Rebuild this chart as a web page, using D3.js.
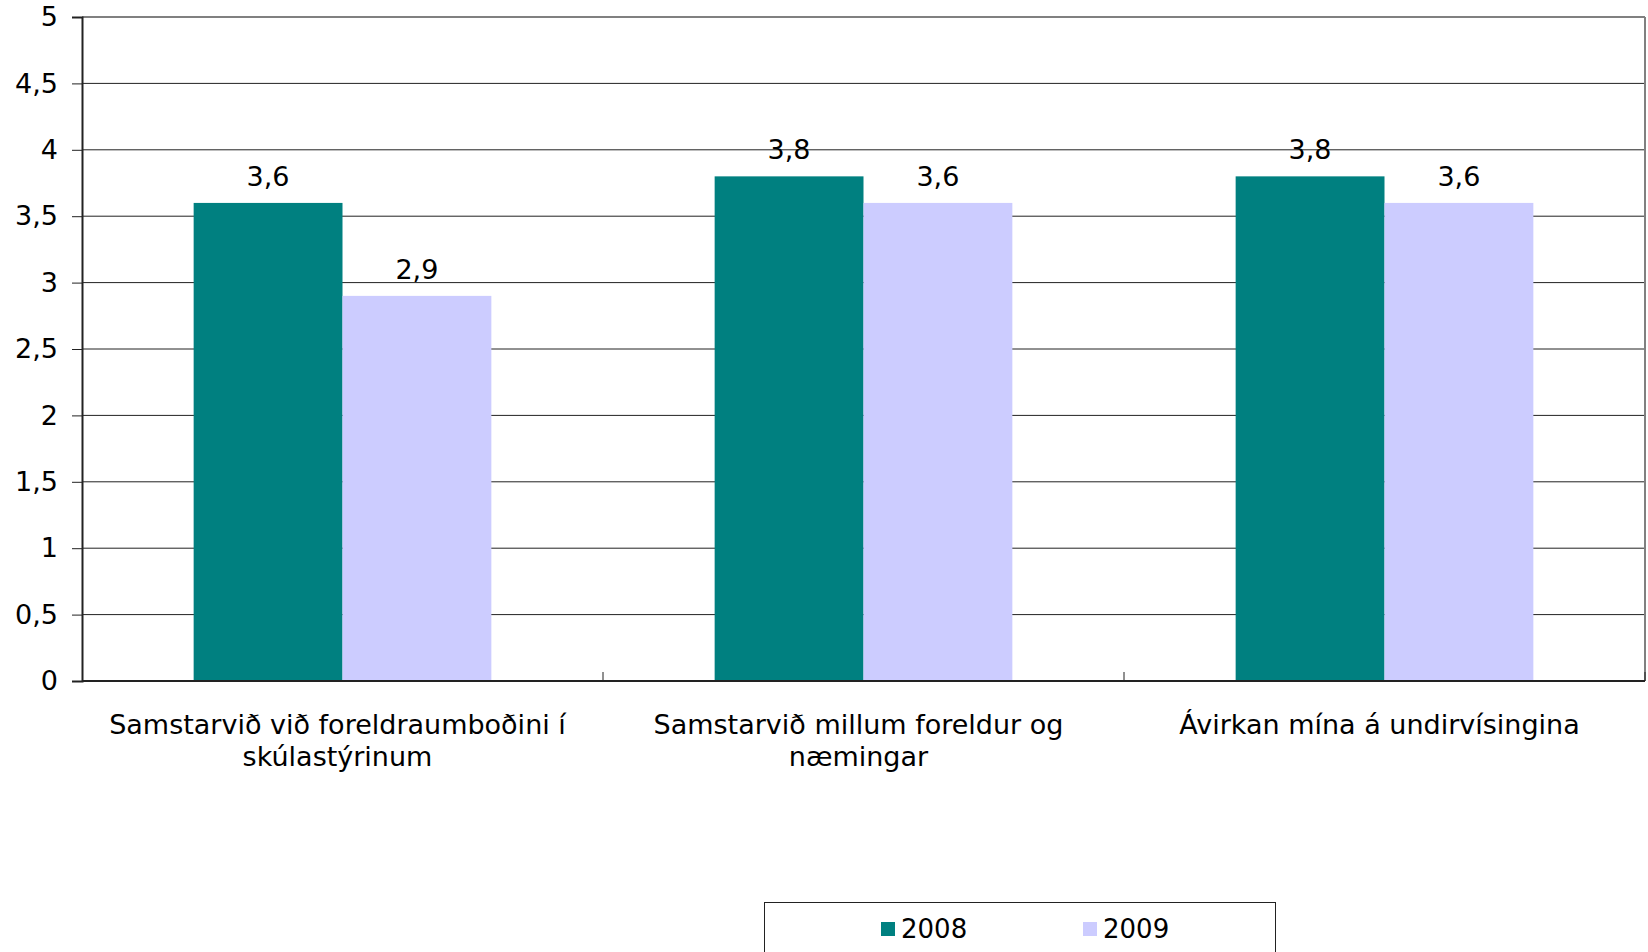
<!DOCTYPE html>
<html>
  <head>
    <meta charset="UTF-8" />
    <title>Samstarv</title>
    <script src="https://d3js.org/d3.v7.min.js"></script>
    <style>
      * {
        margin: 0;
        padding: 0;
      }
      body {
        background-color: #ffffff;
      }
      svg {
        display: block;
      }
      text {
        font-family: "DejaVu Sans", Verdana, sans-serif;
        fill: #000000;
      }
    </style>
  </head>
  <body>
    <svg id="chart" width="1648" height="952"></svg>
  </body>
  <script>
    // data
    const categories = [
      ["Samstarvið við foreldraumboðini í", "skúlastýrinum"],
      ["Samstarvið millum foreldur og", "næmingar"],
      ["Ávirkan mína á undirvísingina"]
    ];
    const seriesNames = ["2008", "2009"];
    const values2008 = [3.6, 3.8, 3.8];
    const values2009 = [2.9, 3.6, 3.6];
    const yTicks = [0, 0.5, 1, 1.5, 2, 2.5, 3, 3.5, 4, 4.5, 5];
    const colors = ["#008080", "#ccccff"];

    const fmt = (v) => String(v).replace(".", ",");

    const svg = d3.select("#chart");
    const plotLeft = 82, plotRight = 1645, plotTop = 17, plotBottom = 681;

    const x = d3.scaleBand()
      .domain(d3.range(categories.length))
      .range([plotLeft, plotRight]);

    const xInner = d3.scaleBand()
      .domain(seriesNames)
      .range([0, x.bandwidth()])
      .paddingInner(0)
      .paddingOuter(0.75);

    const y = d3.scaleLinear().domain([0, 5]).range([plotBottom, plotTop]);

    // gridlines
    svg.append("g")
      .selectAll("line")
      .data(yTicks.filter((t) => t > 0))
      .join("line")
      .attr("x1", plotLeft)
      .attr("x2", plotRight)
      .attr("y1", (d) => y(d))
      .attr("y2", (d) => y(d))
      .attr("stroke", (d) => (d === 5 ? "#808080" : "#222"))
      .attr("stroke-width", (d) => (d === 5 ? 2 : 1));

    // right border
    svg.append("line")
      .attr("x1", plotRight).attr("x2", plotRight)
      .attr("y1", plotTop).attr("y2", plotBottom)
      .attr("stroke", "#808080")
      .attr("stroke-width", 2);

    // bars
    const series = [values2008, values2009];
    series.forEach((vals, si) => {
      svg.append("g")
        .selectAll("rect")
        .data(vals)
        .join("rect")
        .attr("x", (d, i) => x(i) + xInner(seriesNames[si]))
        .attr("width", xInner.bandwidth())
        .attr("y", (d) => y(d))
        .attr("height", (d) => y(0) - y(d))
        .attr("fill", colors[si]);

      svg.append("g")
        .selectAll("text")
        .data(vals)
        .join("text")
        .attr("x", (d, i) => x(i) + xInner(seriesNames[si]) + xInner.bandwidth() / 2)
        .attr("y", (d) => y(d) - 17)
        .attr("text-anchor", "middle")
        .attr("font-size", 27)
        .text((d) => fmt(d));
    });

    // y axis
    const yAxis = d3.axisLeft(y)
      .tickValues(yTicks)
      .tickSize(10)
      .tickPadding(14)
      .tickFormat(fmt);
    const gy = svg.append("g")
      .attr("transform", `translate(${plotLeft},0)`)
      .call(yAxis);
    gy.select(".domain").attr("stroke", "#222").attr("stroke-width", 2);
    gy.selectAll(".tick line").attr("stroke", "#222");
    gy.selectAll(".tick text")
      .attr("font-size", 27)
      .attr("font-family", "DejaVu Sans, Verdana, sans-serif")
      .attr("fill", "#000");

    // x axis baseline and category ticks
    svg.append("line")
      .attr("x1", plotLeft).attr("x2", plotRight)
      .attr("y1", plotBottom).attr("y2", plotBottom)
      .attr("stroke", "#222")
      .attr("stroke-width", 2);

    svg.append("g")
      .selectAll("line")
      .data(d3.range(1, categories.length + 1))
      .join("line")
      .attr("x1", (d) => x.step() * d + plotLeft)
      .attr("x2", (d) => x.step() * d + plotLeft)
      .attr("y1", plotBottom)
      .attr("y2", plotBottom - 9)
      .attr("stroke", "#222");

    // category labels (slightly left of band centre, as in the original)
    const labels = svg.append("g")
      .selectAll("text")
      .data(categories)
      .join("text")
      .attr("x", (d, i) => x(i) + x.bandwidth() / 2 - 5)
      .attr("y", 734)
      .attr("text-anchor", "middle")
      .attr("font-size", 27);
    labels.selectAll("tspan")
      .data((d) => d)
      .join("tspan")
      .attr("x", function () {
        return d3.select(this.parentNode).attr("x");
      })
      .attr("dy", (d, i) => (i === 0 ? 0 : 32))
      .text((d) => d);

    // legend
    const legend = svg.append("g");
    legend.append("rect")
      .attr("x", 764.5)
      .attr("y", 902.5)
      .attr("width", 511)
      .attr("height", 80)
      .attr("fill", "#fff")
      .attr("stroke", "#222");

    const legendX = d3.scaleOrdinal().domain(seriesNames).range([881, 1083]);
    seriesNames.forEach((name, i) => {
      legend.append("rect")
        .attr("x", legendX(name))
        .attr("y", 922)
        .attr("width", 14)
        .attr("height", 14)
        .attr("fill", colors[i]);
      legend.append("text")
        .attr("x", legendX(name) + 20)
        .attr("y", 938)
        .attr("font-size", 26)
        .text(name);
    });
  </script>
</html>
